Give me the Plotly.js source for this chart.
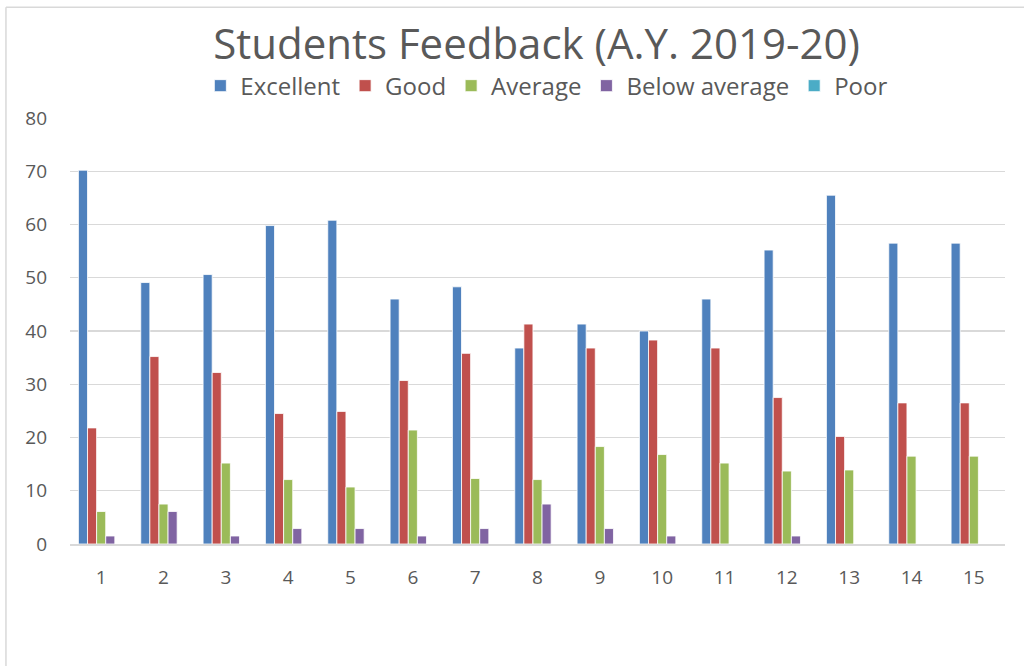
<!DOCTYPE html>
<html>
<head>
<meta charset="utf-8">
<script src="https://cdn.plot.ly/plotly-3.0.1.min.js"></script>
<style>html,body{margin:0;padding:0;background:#fff;}#chart{width:1024px;height:666px;}</style>
</head>
<body>
<div id="chart"></div>
<script>
const categories = ["1","2","3","4","5","6","7","8","9","10","11","12","13","14","15"];
const excellent = [70.2, 49.1, 50.6, 59.8, 60.8, 46.0, 48.3, 36.8, 41.3, 40.0, 46.0, 55.2, 65.5, 56.5, 56.5];
const good      = [21.8, 35.2, 32.2, 24.5, 24.9, 30.7, 35.8, 41.3, 36.8, 38.3, 36.8, 27.5, 20.2, 26.5, 26.5];
const average   = [6.1, 7.5, 15.2, 12.1, 10.7, 21.4, 12.3, 12.1, 18.3, 16.8, 15.2, 13.7, 13.9, 16.5, 16.5];
const belowAvg  = [1.5, 6.1, 1.5, 2.9, 2.9, 1.5, 2.9, 7.5, 2.9, 1.5, 0, 1.5, 0, 0, 0];
const poor      = [0, 0, 0, 0, 0, 0, 0, 0, 0, 0, 0, 0, 0, 0, 0];
const seriesNames = ["Excellent", "Good", "Average", "Below average", "Poor"];
const seriesColors = ["#4f81bd", "#c0504d", "#9bbb59", "#8064a2", "#4bacc6"];
const seriesData = [excellent, good, average, belowAvg, poor];

const traces = seriesData.map((vals, i) => ({
  type: "bar",
  name: seriesNames[i],
  x: categories,
  y: vals,
  marker: {color: seriesColors[i], line: {color: "#ffffff", width: 0.8}},
  hoverinfo: "x+y+name"
}));

const font = "Open Sans, Noto Sans, sans-serif";
const layout = {
  width: 1024, height: 666,
  paper_bgcolor: "#ffffff", plot_bgcolor: "#ffffff",
  margin: {l: 70, r: 19, t: 118, b: 122},
  barmode: "group",
  bargap: 0.27,
  bargroupgap: 0,
  title: {text: "Students Feedback (A.Y. 2019-20)", font: {family: font, size: 42, color: "#595959"}, x: 0.524, xanchor: "center", y: 0.934, yanchor: "middle"},
  showlegend: true,
  legend: {orientation: "h", x: 0.51, xanchor: "center", y: 1.075, yanchor: "middle", font: {family: font, size: 24, color: "#595959"}, itemwidth: 30, traceorder: "normal", itemclick: false},
  xaxis: {type: "category", showgrid: false, showline: true, linecolor: "#d9d9d9", linewidth: 1.5, ticks: "", tickfont: {family: font, size: 19, color: "#595959"}, ticklabelstandoff: 16},
  yaxis: {range: [0, 80], dtick: 10, showgrid: true, gridcolor: "#d9d9d9", gridwidth: 1.3, zeroline: false, showline: false, ticks: "", tickfont: {family: font, size: 19, color: "#595959"}, ticklabelstandoff: 22},
  shapes: [
    {type: "line", xref: "paper", yref: "paper", x0: -0.0685, x1: 1.03, y0: 1.26, y1: 1.26, line: {color: "#d9d9d9", width: 1.5}},
    {type: "line", xref: "paper", yref: "paper", x0: -0.0685, x1: -0.0685, y0: -0.3, y1: 1.26, line: {color: "#d9d9d9", width: 1.5}}
  ]
};
Plotly.newPlot("chart", traces, layout, {displayModeBar: false, staticPlot: true});
</script>
</body>
</html>
